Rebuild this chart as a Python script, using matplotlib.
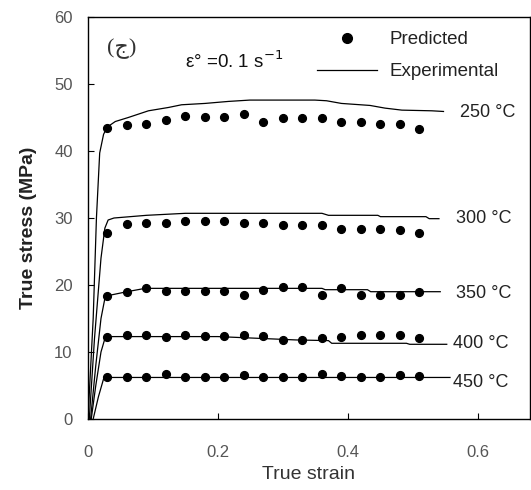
import matplotlib
matplotlib.use("Agg")
import matplotlib.pyplot as plt
from matplotlib.lines import Line2D

plt.rcParams['font.family'] = ['Liberation Sans', 'DejaVu Sans']

# Predicted flow stress (MPa) at fixed strain steps
strain_pred = [0.03, 0.06, 0.09, 0.12, 0.15, 0.18, 0.21, 0.24, 0.27,
               0.30, 0.33, 0.36, 0.39, 0.42, 0.45, 0.48, 0.51]
pred_250 = [43.5, 43.9, 44.0, 44.7, 45.2, 45.1, 45.1, 45.5, 44.4,
            44.9, 45.0, 45.0, 44.4, 44.4, 44.0, 44.0, 43.3]
pred_300 = [27.7, 29.1, 29.2, 29.2, 29.6, 29.6, 29.6, 29.2, 29.2,
            29.0, 29.0, 29.0, 28.3, 28.3, 28.3, 28.2, 27.8]
pred_350 = [18.4, 18.9, 19.5, 19.1, 19.1, 19.1, 19.1, 18.5, 19.3,
            19.7, 19.7, 18.5, 19.5, 18.5, 18.5, 18.5, 18.9]
pred_400 = [12.3, 12.6, 12.5, 12.3, 12.6, 12.4, 12.4, 12.5, 12.4,
            11.8, 11.8, 12.1, 12.3, 12.6, 12.6, 12.6, 12.1]
pred_450 = [6.3, 6.3, 6.3, 6.7, 6.3, 6.3, 6.3, 6.5, 6.3,
            6.3, 6.3, 6.7, 6.4, 6.2, 6.2, 6.5, 6.4]

# Experimental curves
exp_250_x = [0.0, 0.008, 0.013, 0.018, 0.024, 0.030, 0.042, 0.062, 0.093, 0.124, 0.144,
             0.18, 0.216, 0.249, 0.349, 0.367, 0.390, 0.434, 0.457, 0.483, 0.529, 0.547]
exp_250_y = [0, 15, 30, 39.7, 42.5, 43.6, 44.4, 45.0, 46.0, 46.5, 46.9,
             47.1, 47.4, 47.6, 47.6, 47.5, 47.1, 46.8, 46.4, 46.1, 46.0, 45.9]
exp_300_x = [0.002, 0.010, 0.020, 0.026, 0.031, 0.04, 0.09, 0.15, 0.36, 0.37,
             0.446, 0.45, 0.52, 0.525, 0.54]
exp_300_y = [0, 12, 24, 28.5, 29.7, 30.0, 30.4, 30.7, 30.7, 30.4,
             30.4, 30.2, 30.2, 29.9, 29.9]
exp_350_x = [0.004, 0.012, 0.020, 0.026, 0.03, 0.06, 0.088, 0.36, 0.365, 0.43, 0.435, 0.542]
exp_350_y = [0, 8, 15, 18.0, 18.4, 19.0, 19.5, 19.5, 19.3, 19.3, 19.0, 19.0]
exp_400_x = [0.005, 0.012, 0.020, 0.026, 0.03, 0.2, 0.32, 0.37, 0.375, 0.49, 0.495, 0.552]
exp_400_y = [0, 5, 10, 12.0, 12.3, 12.3, 11.8, 11.7, 11.3, 11.3, 11.15, 11.15]
exp_450_x = [0.008, 0.016, 0.024, 0.03, 0.557]
exp_450_y = [0, 3.3, 6.0, 6.2, 6.2]

temps = ['250 °C', '300 °C', '350 °C', '400 °C', '450 °C']
label_pos = [(0.572, 45.8), (0.567, 30.0), (0.567, 18.8), (0.562, 11.2), (0.562, 5.4)]

fig = plt.figure(figsize=(5.31, 4.90), dpi=100)
ax = fig.add_axes([0.1657, 0.1449, 0.8323, 0.8204])

preds = [pred_250, pred_300, pred_350, pred_400, pred_450]
exps = [(exp_250_x, exp_250_y), (exp_300_x, exp_300_y), (exp_350_x, exp_350_y),
        (exp_400_x, exp_400_y), (exp_450_x, exp_450_y)]

for (ex, ey), py in zip(exps, preds):
    ax.plot(ex, ey, color='black', lw=0.9)
    ax.plot(strain_pred, py, 'o', color='black', ms=5.6, mec='black')

for t, (lx, ly) in zip(temps, label_pos):
    ax.text(lx, ly, t, fontsize=13, color='#222222', va='center', ha='left')

ax.text(0.052, 55.3, '(ج)', fontsize=16, color='#333333', va='center', ha='center',
        family=['Liberation Serif', 'DejaVu Sans'])
ax.text(0.150, 53.4, 'ε° =0. 1 s$^{-1}$', fontsize=13.5, color='#111111',
        va='center', ha='left')

handles = [Line2D([], [], ls='none', marker='o', color='black', ms=7),
           Line2D([], [], color='black', lw=0.9)]
ax.legend(handles, ['Predicted', 'Experimental'], loc='upper left',
          bbox_to_anchor=(0.518, 0.965), frameon=False, borderpad=0, borderaxespad=0,
          fontsize=13.5, handlelength=3.2, handletextpad=0.66, labelspacing=0.8,
          labelcolor='#222222')

ax.set_xlim(0, 0.68)
ax.set_ylim(0, 60)
ax.set_xticks([0, 0.2, 0.4, 0.6])
ax.set_xticklabels(['0', '0.2', '0.4', '0.6'])
ax.set_yticks([0, 10, 20, 30, 40, 50, 60])
ax.tick_params(direction='in', length=4, width=0.8, labelsize=12, labelcolor='#555555')
ax.tick_params(axis='y', pad=11)
ax.tick_params(axis='x', pad=19)
for s in ax.spines.values():
    s.set_linewidth(1.0)

ax.set_xlabel('True strain', fontsize=14, color='#333333')
ax.set_ylabel('True stress (MPa)', fontsize=14, fontweight='bold', color='#222222')
ax.xaxis.set_label_coords(0.5, -0.117)
ax.yaxis.set_label_coords(-0.115, 0.475)

fig.savefig('out.png', dpi=100)
